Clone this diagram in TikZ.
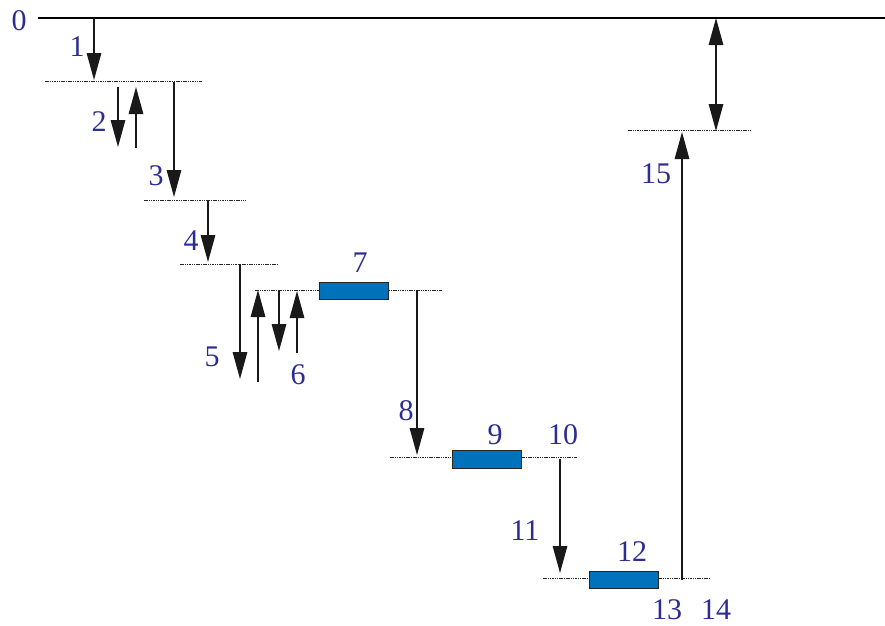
\documentclass[tikz,border=0pt]{standalone}
\usepackage{fontspec}
\setmainfont{Liberation Serif}
\usetikzlibrary{arrows.meta}
\definecolor{lblue}{RGB}{45,45,145}
\definecolor{boxblue}{RGB}{0,114,188}
\begin{document}
\begin{tikzpicture}[x=1pt,y=-1pt,
  lbl/.style={text=lblue,font=\fontsize{30}{31}\selectfont,inner sep=0pt,anchor=center},
  lvl/.style={draw=black!85,line width=0.8pt,dash pattern=on 1.5pt off 0.8pt},
  arr/.style={draw=black!90,line width=1.4pt,-{Triangle[length=27pt,width=14.5pt]}},
  darr/.style={draw=black!90,line width=1.4pt,{Triangle[length=27pt,width=14.5pt]}-{Triangle[length=27pt,width=14.5pt]}},
  bbox/.style={draw=black!85,fill=boxblue,line width=0.8pt,minimum width=69pt,minimum height=17.5pt,inner sep=0pt}]
\useasboundingbox (0,0) rectangle (885,625);
% top line
\coordinate (t0) at (38,18);
\coordinate (t1) at (885,18);
\draw[line width=1.2pt] (t0) -- (t1);
% levels
\coordinate (l1a) at (45,81);  \coordinate (l1b) at (202,81);
\coordinate (l2a) at (144,200); \coordinate (l2b) at (246,200);
\coordinate (l3a) at (180,264); \coordinate (l3b) at (278,264);
\coordinate (l4a) at (255,290); \coordinate (l4b) at (442,290);
\coordinate (l5a) at (390,457); \coordinate (l5b) at (577,457);
\coordinate (l6a) at (543,578); \coordinate (l6b) at (710,578);
\coordinate (l7a) at (628,130); \coordinate (l7b) at (750,130);
\foreach \l in {1,...,7} {\draw[lvl] (l\l a) -- (l\l b);}
% boxes
\node[bbox] (b7) at (353.5,291) {};
\node[bbox] (b9) at (486.5,459.5) {};
\node[bbox] (b12) at (624,580) {};
% arrow coordinates
\coordinate (a1s) at (94,18);   \coordinate (a1e) at (94,80);
\coordinate (a2s) at (118,87);  \coordinate (a2e) at (118,147);
\coordinate (a2us) at (136,148); \coordinate (a2ue) at (136,87);
\coordinate (a3s) at (174,82);  \coordinate (a3e) at (174,197);
\coordinate (a4s) at (208,201); \coordinate (a4e) at (208,262);
\coordinate (a5s) at (240,264); \coordinate (a5e) at (240,379);
\coordinate (a5us) at (258,382); \coordinate (a5ue) at (258,290);
\coordinate (a6s) at (279,291); \coordinate (a6e) at (279,351);
\coordinate (a6us) at (297,353); \coordinate (a6ue) at (297,291);
\coordinate (a8s) at (417,290); \coordinate (a8e) at (417,455);
\coordinate (a11s) at (560,459); \coordinate (a11e) at (560,573);
\coordinate (a15s) at (682,580); \coordinate (a15e) at (682,132);
\coordinate (ads) at (716,18); \coordinate (ade) at (716,131);
\draw[arr] (a1s) -- (a1e);
\draw[arr] (a2s) -- (a2e);
\draw[arr] (a2us) -- (a2ue);
\draw[arr] (a3s) -- (a3e);
\draw[arr] (a4s) -- (a4e);
\draw[arr] (a5s) -- (a5e);
\draw[arr] (a5us) -- (a5ue);
\draw[arr] (a6s) -- (a6e);
\draw[arr] (a6us) -- (a6ue);
\draw[arr] (a8s) -- (a8e);
\draw[arr] (a11s) -- (a11e);
\draw[arr] (a15s) -- (a15e);
\draw[darr] (ads) -- (ade);
% labels
\node[lbl] (n0) at (19,21) {0};
\node[lbl] (n1) at (77,47) {1};
\node[lbl] (n2) at (99,122) {2};
\node[lbl] (n3) at (156,176) {3};
\node[lbl] (n4) at (191,241) {4};
\node[lbl] (n5) at (212,357) {5};
\node[lbl] (n6) at (298,375) {6};
\node[lbl] (n7) at (360,263) {7};
\node[lbl] (n8) at (406,411) {8};
\node[lbl] (n9) at (495,435) {9};
\node[lbl] (n10) at (563,435) {10};
\node[lbl] (n11) at (525,531) {11};
\node[lbl] (n12) at (632,552) {12};
\node[lbl] (n13) at (667,610) {13};
\node[lbl] (n14) at (716,610) {14};
\node[lbl] (n15) at (656,174) {15};
\end{tikzpicture}
\end{document}
